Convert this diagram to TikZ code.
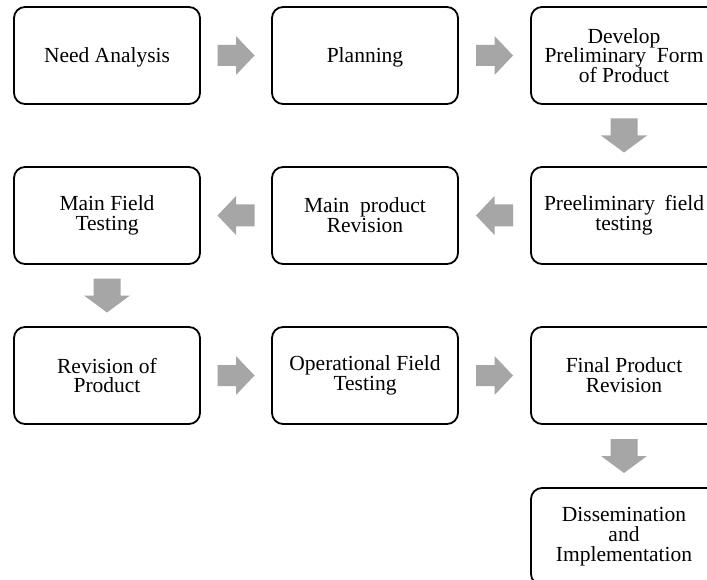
\documentclass[tikz,border=0pt]{standalone}
\usepackage{fontspec}
\setmainfont{Liberation Serif}
\usetikzlibrary{calc}
\definecolor{arrowgray}{HTML}{A6A6A6}
\tikzset{
  box/.style={draw=black, line width=1.8pt, rounded corners=11pt,
    minimum width=186pt, minimum height=97pt, align=center,
    font=\fontsize{21.5}{19.8}\selectfont, inner sep=0pt,
    execute at begin node={\rule{0pt}{19pt}}},
  rarr/.pic={\fill[arrowgray] (-18.5,-10.5) -- (0,-10.5) -- (0,-19.5) -- (18.5,0)
     -- (0,19.5) -- (0,10.5) -- (-18.5,10.5) -- cycle;},
  larr/.pic={\fill[arrowgray] (18.5,-11) -- (0,-11) -- (0,-19.5) -- (-18.5,0)
     -- (0,19.5) -- (0,11) -- (18.5,11) -- cycle;},
  darr/.pic={\fill[arrowgray] (-13.5,-17) -- (13.5,-17) -- (13.5,0) -- (23,0)
     -- (0,17) -- (-23,0) -- (-13.5,0) -- cycle;}
}
\begin{document}
\begin{tikzpicture}[x=1pt,y=-1pt]
\clip (0,0) rectangle (707,580);
\fill[white] (0,0) rectangle (707,580);
\node[box] (n1) at (107,55.5) {Need Analysis};
\node[box] (n2) at (365,55.5) {Planning};
\node[box] (n3) at (624,55.5) {Develop\\\makebox[159pt][s]{Preliminary Form}\\of Product};
\node[box] (n4) at (624,215.5) {\makebox[160pt][s]{Preeliminary field}\\testing};
\node[box] (n5) at (365,215.5) {Main\hspace{0.5em}product\\Revision};
\node[box] (n6) at (107,215.5) {Main Field\\Testing};
\node[box] (n7) at (107,375.5) {Revision of\\Product};
\node[box] (n8) at (365,375.5) {Operational Field\\Testing};
\node[box] (n9) at (624,375.5) {Final Product\\Revision};
\node[box] (n10) at (624,536.5) {Dissemination\\and\\Implementation};
\path ($(n1.east)!0.5!(n2.west)$) pic {rarr};
\path ($(n2.east)!0.5!(n3.west)$) pic {rarr};
\path ($(n3.south)!0.5!(n4.north)$) pic {darr};
\path ($(n4.west)!0.5!(n5.east)$) pic {larr};
\path ($(n5.west)!0.5!(n6.east)$) pic {larr};
\path ($(n6.south)!0.5!(n7.north)$) pic {darr};
\path ($(n7.east)!0.5!(n8.west)$) pic {rarr};
\path ($(n8.east)!0.5!(n9.west)$) pic {rarr};
\path ($(n9.south)!0.5!(n10.north)$) pic {darr};
\end{tikzpicture}
\end{document}
